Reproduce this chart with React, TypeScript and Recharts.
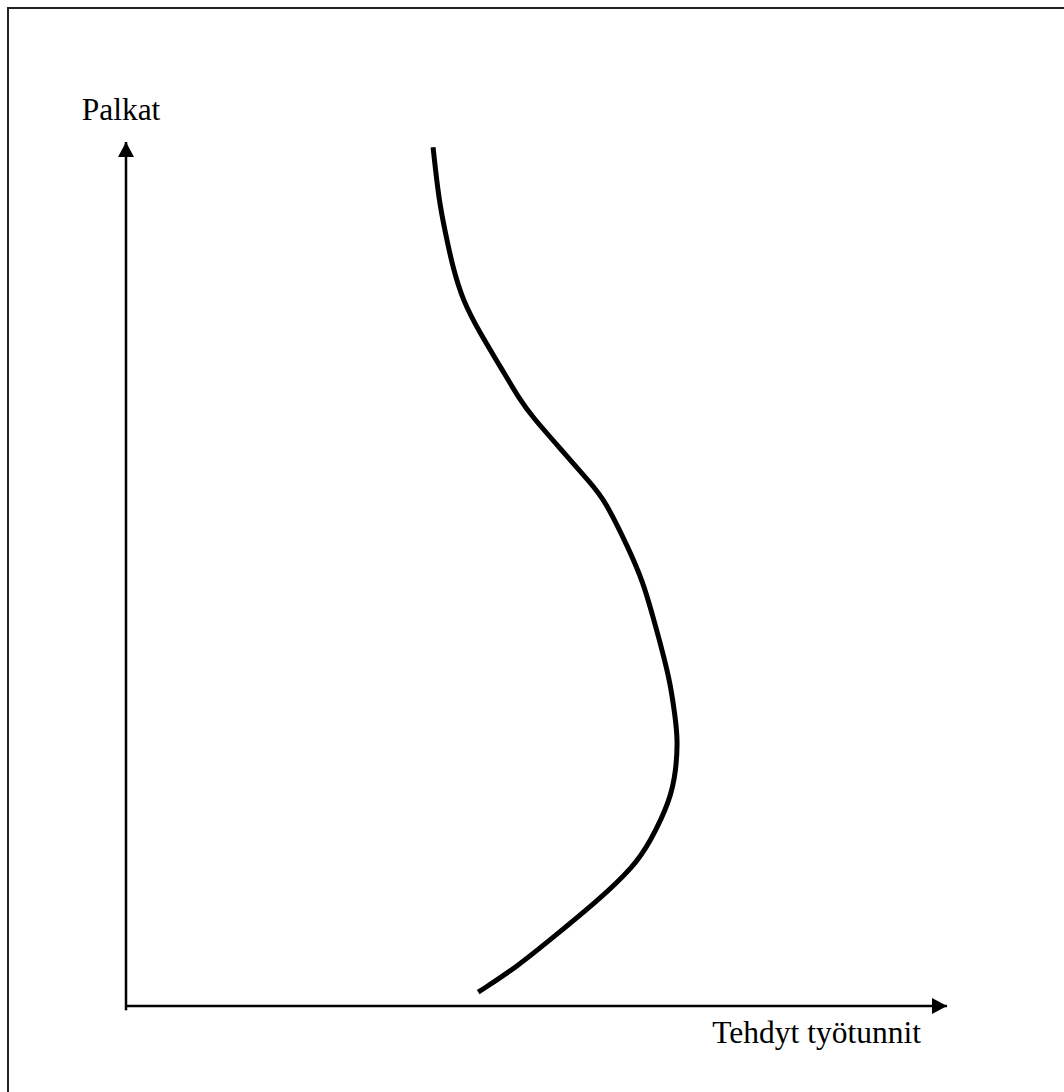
import React from 'react';
import { ComposedChart, Line, XAxis, YAxis, ReferenceDot, ReferenceLine } from 'recharts';

// Wage level (vertical axis, 0-100) and hours worked (horizontal axis, 0-100)
const wages = [99.4, 93.3, 89.5, 85.5, 81.7, 77.9, 74.0, 70.1, 68.2, 64.4, 60.5, 58.6, 52.8, 49.0, 45.0, 41.2, 37.4, 33.4, 30.8, 27.3, 23.8, 18.9, 16.1, 12.3, 8.4, 4.5, 1.6];
const hours = [37.4, 38.1, 38.9, 39.8, 41.0, 43.1, 45.6, 48.0, 49.5, 53.0, 56.6, 58.3, 61.3, 63.0, 64.2, 65.3, 66.3, 66.9, 67.2, 67.0, 66.3, 63.8, 61.8, 57.6, 52.6, 47.6, 42.9];

const xLabel = 'Tehdyt työtunnit';
const yLabel = 'Palkat';

const data = wages.map((w, i) => ({ wage: w, hours: hours[i] }));

const FONT = '"Liberation Serif", "Times New Roman", serif';

const XArrow = (props: any) => {
  const { cx, cy } = props;
  return <polygon points={`${cx},${cy} ${cx - 15},${cy - 8} ${cx - 15},${cy + 8}`} fill="#000" />;
};
const YArrow = (props: any) => {
  const { cx, cy } = props;
  return <polygon points={`${cx},${cy} ${cx - 8},${cy + 15} ${cx + 8},${cy + 15}`} fill="#000" />;
};

export default function App() {
  return (
    <div style={{ position: 'absolute', left: 0, top: 0, width: 1064, height: 1092, background: '#fff', overflow: 'hidden' }}>
      <div
        style={{
          position: 'absolute',
          left: 7,
          top: 7,
          width: 1070,
          height: 1100,
          borderLeft: '2px solid #222',
          borderTop: '2px solid #222',
          boxSizing: 'border-box',
        }}
      />
      <div style={{ position: 'absolute', left: 0, top: 0 }}>
        <ComposedChart
          width={1064}
          height={1092}
          data={data}
          layout="vertical"
          margin={{ top: 142, right: 117, bottom: 0, left: 0 }}
        >
          <XAxis
            type="number"
            dataKey="hours"
            domain={[0, 100]}
            allowDataOverflow
            height={86}
            tick={false}
            tickLine={false}
            axisLine={{ stroke: '#000', strokeWidth: 2.5 }}
            label={{
              content: (p: any) => {
                const vb = p.viewBox;
                return (
                  <text
                    x={vb.x + vb.width - 26}
                    y={vb.y + 37}
                    textAnchor="end"
                    fontFamily={FONT}
                    fontSize={31.5}
                    fill="#000"
                  >
                    {xLabel}
                  </text>
                );
              },
            }}
          />
          <YAxis
            type="number"
            dataKey="wage"
            domain={[0, 100]}
            reversed
            allowDataOverflow
            width={126}
            tick={false}
            tickLine={false}
            axisLine={{ stroke: '#000', strokeWidth: 2.5 }}
            label={{
              content: (p: any) => {
                const vb = p.viewBox;
                return (
                  <text
                    x={vb.x + vb.width - 5}
                    y={vb.y - 22}
                    textAnchor="middle"
                    fontFamily={FONT}
                    fontSize={31.5}
                    fill="#000"
                  >
                    {yLabel}
                  </text>
                );
              },
            }}
          />
          <ReferenceLine
            segment={[{ x: 0, y: 0 }, { x: 0, y: -0.5 }]}
            stroke="#000"
            strokeWidth={2.5}
            ifOverflow="visible"
          />
          <Line
            type="basis"
            dataKey="hours"
            stroke="#000"
            strokeWidth={5}
            dot={false}
            activeDot={false}
            isAnimationActive={false}
          />
          <ReferenceDot x={100} y={0} r={0} shape={XArrow} ifOverflow="visible" />
          <ReferenceDot x={0} y={100} r={0} shape={YArrow} ifOverflow="visible" />
        </ComposedChart>
      </div>
    </div>
  );
}
